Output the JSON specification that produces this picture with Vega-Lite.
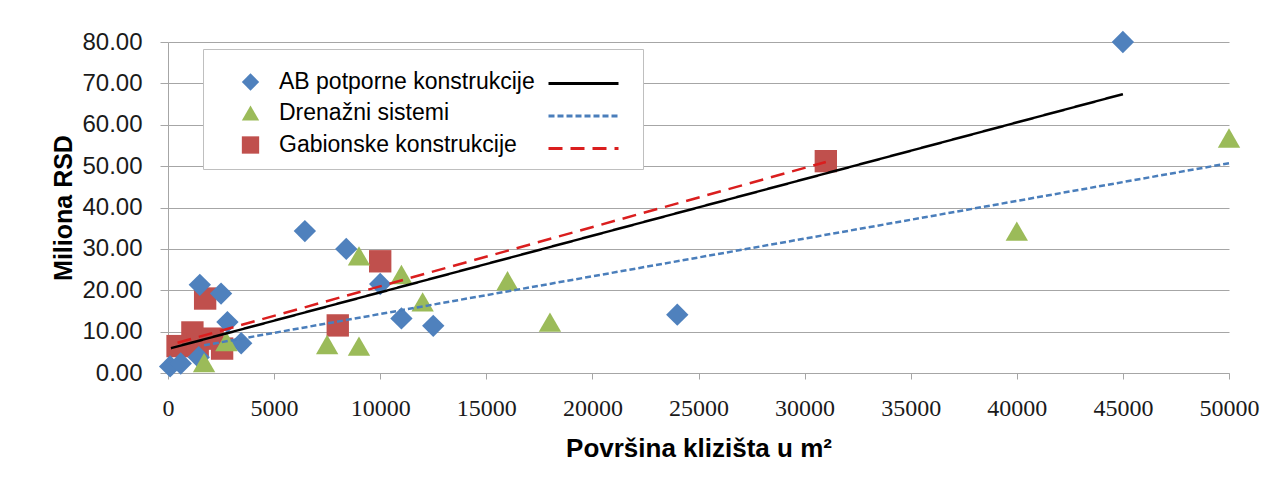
{
  "$schema": "https://vega.github.io/schema/vega-lite/v6.json",
  "width": 1061,
  "height": 331,
  "autosize": "none",
  "padding": {"left": 168, "top": 42, "right": 53, "bottom": 115},
  "background": "white",
  "config": {"view": {"stroke": null}, "font": "Liberation Sans"},
  "datasets": {
    "points": [
      {"series": "Gabionske konstrukcije", "area": 450, "cost": 6.5},
      {"series": "Gabionske konstrukcije", "area": 1150, "cost": 9.8},
      {"series": "Gabionske konstrukcije", "area": 1400, "cost": 6.8},
      {"series": "Gabionske konstrukcije", "area": 1750, "cost": 18.0},
      {"series": "Gabionske konstrukcije", "area": 2100, "cost": 8.3},
      {"series": "Gabionske konstrukcije", "area": 2550, "cost": 5.9},
      {"series": "Gabionske konstrukcije", "area": 8000, "cost": 11.5},
      {"series": "Gabionske konstrukcije", "area": 10000, "cost": 27.0},
      {"series": "Gabionske konstrukcije", "area": 31000, "cost": 51.2},
      {"series": "AB potporne konstrukcije", "area": 100, "cost": 1.6},
      {"series": "AB potporne konstrukcije", "area": 600, "cost": 2.3},
      {"series": "AB potporne konstrukcije", "area": 1450, "cost": 3.8},
      {"series": "AB potporne konstrukcije", "area": 1500, "cost": 21.3},
      {"series": "AB potporne konstrukcije", "area": 2500, "cost": 19.2},
      {"series": "AB potporne konstrukcije", "area": 2800, "cost": 12.3},
      {"series": "AB potporne konstrukcije", "area": 3450, "cost": 7.2},
      {"series": "AB potporne konstrukcije", "area": 6450, "cost": 34.3},
      {"series": "AB potporne konstrukcije", "area": 8400, "cost": 30.0},
      {"series": "AB potporne konstrukcije", "area": 10000, "cost": 21.5},
      {"series": "AB potporne konstrukcije", "area": 11000, "cost": 13.2},
      {"series": "AB potporne konstrukcije", "area": 12500, "cost": 11.4},
      {"series": "AB potporne konstrukcije", "area": 24000, "cost": 14.1},
      {"series": "AB potporne konstrukcije", "area": 45000, "cost": 80.0},
      {"series": "Drenažni sistemi", "area": 1700, "cost": 2.5},
      {"series": "Drenažni sistemi", "area": 2750, "cost": 7.6},
      {"series": "Drenažni sistemi", "area": 7500, "cost": 6.9},
      {"series": "Drenažni sistemi", "area": 9000, "cost": 6.5},
      {"series": "Drenažni sistemi", "area": 9000, "cost": 28.3},
      {"series": "Drenažni sistemi", "area": 11000, "cost": 23.8},
      {"series": "Drenažni sistemi", "area": 12000, "cost": 17.2},
      {"series": "Drenažni sistemi", "area": 16000, "cost": 22.3},
      {"series": "Drenažni sistemi", "area": 18000, "cost": 12.3},
      {"series": "Drenažni sistemi", "area": 40000, "cost": 34.3},
      {"series": "Drenažni sistemi", "area": 50000, "cost": 56.8}
    ],
    "trends": [
      {"trend": "AB", "area": 140, "cost": 6.0},
      {"trend": "AB", "area": 45000, "cost": 67.4},
      {"trend": "DS", "area": 1700, "cost": 6.7},
      {"trend": "DS", "area": 50000, "cost": 50.7},
      {"trend": "GK", "area": 450, "cost": 7.3},
      {"trend": "GK", "area": 31000, "cost": 51.0}
    ]
  },
  "encoding": {
    "x": {
      "field": "area", "type": "quantitative",
      "scale": {"domain": [0, 50000], "nice": false, "zero": true},
      "axis": {
        "title": "Površina klizišta u m²",
        "titleFont": "Liberation Sans", "titleFontSize": 26, "titleFontWeight": "bold", "titleColor": "#000000",
        "titlePadding": 15,
        "values": [0, 5000, 10000, 15000, 20000, 25000, 30000, 35000, 40000, 45000, 50000],
        "format": "d",
        "labelFont": "Liberation Sans Narrow", "labelFontSize": 24, "labelColor": "#1a1a1a",
        "labelPadding": 17, "labelOverlap": false, "labelFlush": false,
        "tickSize": 6, "tickColor": "#A6A6A6", "domainColor": "#A6A6A6",
        "grid": false
      }
    },
    "y": {
      "field": "cost", "type": "quantitative",
      "scale": {"domain": [0, 80], "nice": false},
      "axis": {
        "title": "Miliona RSD",
        "titleFont": "Liberation Sans", "titleFontSize": 25, "titleFontWeight": "bold", "titleColor": "#000000",
        "titlePadding": 5,
        "values": [0, 10, 20, 30, 40, 50, 60, 70, 80],
        "format": ".2f",
        "labelFont": "Liberation Sans", "labelFontSize": 24, "labelColor": "#1a1a1a",
        "labelPadding": 18,
        "tickSize": 8, "tickColor": "#A6A6A6", "domainColor": "#A6A6A6",
        "grid": true, "gridColor": "#A6A6A6", "gridWidth": 1
      }
    }
  },
  "layer": [
    {
      "data": {"name": "points"},
      "mark": {"type": "point", "filled": true, "opacity": 1, "size": 500, "strokeWidth": 0},
      "encoding": {
        "fill": {
          "field": "series", "type": "nominal",
          "scale": {"domain": ["AB potporne konstrukcije", "Drenažni sistemi", "Gabionske konstrukcije"], "range": ["#4F81BD", "#9BBB59", "#C0504D"]}
        },
        "shape": {
          "field": "series", "type": "nominal",
          "scale": {"domain": ["AB potporne konstrukcije", "Drenažni sistemi", "Gabionske konstrukcije"], "range": ["diamond", "triangle-up", "square"]},
          "legend": {
            "orient": "none", "legendX": 35, "legendY": 7,
            "title": "\u00a0\u200b", "titleFontSize": 4, "titlePadding": 5.5,
            "padding": 12, "strokeColor": "#BFBFBF", "fillColor": "#ffffff",
            "symbolOffset": 24, "labelOffset": 17, "symbolSize": 300,
            "symbolStrokeColor": "transparent", "symbolOpacity": 1,
            "labelFont": "Liberation Sans", "labelFontSize": 23, "labelColor": "#000000", "labelLimit": 800,
            "labelExpr": "datum.label + '\u00a0\u00a0\u00a0\u00a0\u00a0\u00a0\u00a0\u00a0\u00a0\u00a0\u00a0\u00a0\u00a0\u00a0\u00a0\u200b'",
            "rowPadding": 7
          }
        }
      }
    },
    {
      "data": {"name": "trends"},
      "mark": {"type": "line", "strokeWidth": 2.5, "strokeCap": "butt"},
      "encoding": {
        "stroke": {
          "field": "trend", "type": "nominal",
          "scale": {"domain": ["AB", "DS", "GK"], "range": ["#000000", "#4A7EBB", "#DA1E1E"]}
        },
        "strokeDash": {
          "field": "trend", "type": "nominal",
          "scale": {"domain": ["AB", "DS", "GK"], "range": [[1, 0], [6, 3], [14, 8]]},
          "legend": {
            "orient": "none", "legendX": 395, "legendY": 21,
            "title": null,
            "padding": 12, "symbolOffset": 0,
            "symbolType": "M-5,0H5", "symbolSize": 196, "symbolStrokeWidth": 3,
            "labelExpr": "''", "labelFontSize": 1,
            "rowPadding": 17.5
          }
        }
      }
    }
  ]
}
